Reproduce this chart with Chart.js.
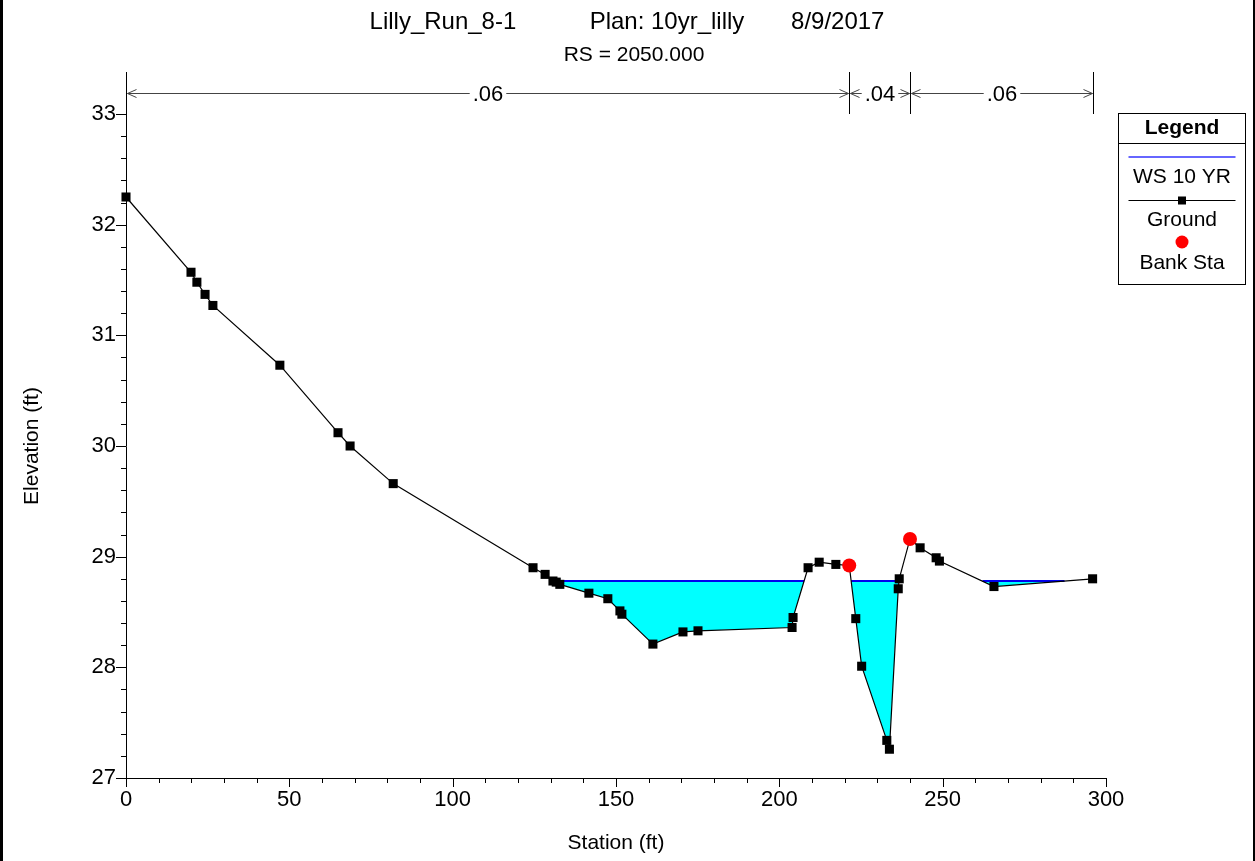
<!DOCTYPE html>
<html>
<head>
<meta charset="utf-8">
<script src="https://cdn.jsdelivr.net/npm/chart.js@4.4.1/dist/chart.umd.min.js"></script>
<style>
  html, body { margin: 0; padding: 0; background: #fff; }
  #wrap { width: 1255px; height: 861px; }
</style>
</head>
<body>
<div id="wrap"><canvas id="xsChart" width="1255" height="861"></canvas></div>
<script>
// HEC-RAS cross section, RS 2050

// ground points (station ft, elevation ft)
const groundSta = [
  0, 19.9, 21.7, 24.2, 26.6, 47.1, 64.9, 68.6, 81.8,
  124.6, 128.3, 130.7, 131.7, 132.8, 141.7, 147.5, 151.2, 151.8,
  161.3, 170.5, 175.1, 203.9, 204.2, 208.8, 212.2, 217.3, 221.4,
  223.4, 225.2, 232.9, 233.7, 236.4, 236.7, 240.0, 243.1, 248.0,
  249.0, 265.7, 295.9
];
const groundElev = [
  32.25, 31.57, 31.48, 31.37, 31.27, 30.73, 30.12, 30.00, 29.66,
  28.90, 28.84, 28.78, 28.77, 28.75, 28.67, 28.62, 28.51, 28.48,
  28.21, 28.32, 28.33, 28.36, 28.45, 28.90, 28.95, 28.93, 28.92,
  28.44, 28.01, 27.34, 27.26, 28.71, 28.80, 29.16, 29.08, 28.99,
  28.96, 28.73, 28.80
];

// bank stations
const bankSta = [221.4, 240.0];
const bankElev = [28.92, 29.16];

// water surface, 10 yr event: level and wetted reaches
const wsElev = 28.78;
const wsFromSta = [130.9, 222.0, 262.2];
const wsToSta = [207.6, 236.6, 287.3];

// Manning's n breaks along the top
const nBreakSta = [0, 221.4, 240.0, 295.9];
const nLabels = ['.06', '.04', '.06'];

// axis ticks
const xTickVals = [0, 50, 100, 150, 200, 250, 300];
const yTickVals = [27, 28, 29, 30, 31, 32, 33];

const titleText = 'Lilly_Run_8-1           Plan: 10yr_lilly       8/9/2017';
const subTitleText = 'RS = 2050.000';

const FONT = "'Liberation Sans', Arial, sans-serif";

function wsPoints() {
  const pts = [];
  for (let i = 0; i < wsFromSta.length; i++) {
    if (i > 0) pts.push({ x: (wsToSta[i - 1] + wsFromSta[i]) / 2, y: null });
    pts.push({ x: wsFromSta[i], y: wsElev });
    pts.push({ x: wsToSta[i], y: wsElev });
  }
  return pts;
}

function drawArrowHead(ctx, x, y, dir) {
  // open arrow head, dir = -1 points left, 1 points right
  ctx.beginPath();
  ctx.moveTo(x - dir * 9, y - 4);
  ctx.lineTo(x, y);
  ctx.lineTo(x - dir * 9, y + 4);
  ctx.stroke();
}

const hecrasDecor = {
  id: 'hecrasDecor',
  afterDraw(chart) {
    const ctx = chart.ctx;
    const xs = chart.scales.x;
    const ys = chart.scales.y;
    const area = chart.chartArea;
    ctx.save();

    // title + subtitle
    ctx.fillStyle = '#000';
    ctx.textAlign = 'center';
    ctx.textBaseline = 'middle';
    ctx.font = '24px ' + FONT;
    ctx.fillText(titleText, 627, 22);
    ctx.font = '21px ' + FONT;
    ctx.fillText(subTitleText, 634, 55);

    // axis tick marks, major + minor
    ctx.strokeStyle = '#000';
    ctx.lineWidth = 1;
    ctx.beginPath();
    for (let v = 0; v <= 300 + 1e-6; v += 10) {
      const px = Math.round(xs.getPixelForValue(v)) + 0.5;
      const len = Math.abs(v % 50) < 1e-6 ? 9 : 5;
      ctx.moveTo(px, area.bottom);
      ctx.lineTo(px, area.bottom + len);
    }
    for (let i = 0; i <= 30; i++) {
      const v = 27 + i * 0.2;
      const py = Math.round(ys.getPixelForValue(v)) + 0.5;
      const len = i % 5 === 0 ? 10 : 5;
      ctx.moveTo(area.left, py);
      ctx.lineTo(area.left - len, py);
    }
    ctx.stroke();

    // Manning's n bar
    const barY = 93.5;
    const topY = 72;
    ctx.strokeStyle = '#000';
    ctx.beginPath();
    nBreakSta.forEach(s => {
      const px = Math.round(xs.getPixelForValue(s)) + 0.5;
      ctx.moveTo(px, topY);
      ctx.lineTo(px, area.top);
    });
    ctx.stroke();
    ctx.font = '22px ' + FONT;
    ctx.strokeStyle = '#444';
    for (let i = 0; i < nLabels.length; i++) {
      const x1 = Math.round(xs.getPixelForValue(nBreakSta[i])) + 1.5;
      const x2 = Math.round(xs.getPixelForValue(nBreakSta[i + 1])) - 0.5;
      const cx = (x1 + x2) / 2;
      const half = ctx.measureText(nLabels[i]).width / 2 + 3;
      ctx.beginPath();
      ctx.moveTo(x1, barY);
      ctx.lineTo(cx - half, barY);
      ctx.moveTo(cx + half, barY);
      ctx.lineTo(x2, barY);
      ctx.stroke();
      drawArrowHead(ctx, x1, barY, -1);
      drawArrowHead(ctx, x2, barY, 1);
      ctx.fillText(nLabels[i], cx, barY + 1);
    }

    // legend box
    const ds = chart.data.datasets;
    const lx = 1118.5, ly = 113.5, lw = 127, lh = 171;
    const cx = lx + lw / 2;
    ctx.strokeStyle = '#000';
    ctx.lineWidth = 1;
    ctx.strokeRect(lx, ly, lw, lh);
    ctx.beginPath();
    ctx.moveTo(lx, 143.5);
    ctx.lineTo(lx + lw, 143.5);
    ctx.stroke();
    ctx.font = 'bold 21px ' + FONT;
    ctx.fillText('Legend', cx, 128);
    ctx.font = '21px ' + FONT;

    // WS
    ctx.strokeStyle = '#3333ff';
    ctx.lineWidth = 1.5;
    ctx.beginPath();
    ctx.moveTo(lx + 10, 157);
    ctx.lineTo(lx + lw - 10, 157);
    ctx.stroke();
    ctx.lineWidth = 1;
    ctx.fillText(ds[2].label, cx, 177);
    // Ground
    ctx.strokeStyle = '#000';
    ctx.beginPath();
    ctx.moveTo(lx + 10, 200.5);
    ctx.lineTo(lx + lw - 10, 200.5);
    ctx.stroke();
    ctx.fillRect(cx - 4, 196.5, 8, 8);
    ctx.fillText(ds[1].label, cx, 220);
    // Bank Sta
    ctx.fillStyle = ds[0].pointBackgroundColor;
    ctx.beginPath();
    ctx.arc(cx, 242, 6.5, 0, Math.PI * 2);
    ctx.fill();
    ctx.fillStyle = '#000';
    ctx.fillText(ds[0].label, cx, 263);

    // outer frame sides
    ctx.fillRect(0, 0, 3, chart.height);
    ctx.fillRect(chart.width - 2, 0, 2, chart.height);
    ctx.restore();
  }
};

const chart = new Chart(document.getElementById('xsChart'), {
  type: 'line',
  data: {
    datasets: [
      {
        label: 'Bank Sta',
        data: bankSta.map((s, i) => ({ x: s, y: bankElev[i] })),
        showLine: false,
        pointStyle: 'circle',
        pointRadius: 7,
        pointBorderWidth: 0,
        pointBackgroundColor: '#ff0000',
        borderColor: '#ff0000',
        clip: false
      },
      {
        label: 'Ground',
        data: groundSta.map((s, i) => ({ x: s, y: groundElev[i] })),
        borderColor: '#000',
        borderWidth: 1.2,
        pointStyle: 'rect',
        pointRadius: 6.4,
        pointBorderWidth: 0,
        pointBackgroundColor: '#000',
        tension: 0,
        fill: false,
        clip: false
      },
      {
        label: 'WS 10 YR',
        data: wsPoints(),
        borderColor: '#0000ee',
        borderWidth: 2,
        pointRadius: 0,
        spanGaps: false,
        fill: { target: 1, above: '#00ffff', below: 'rgba(0,0,0,0)' },
        backgroundColor: '#00ffff'
      }
    ]
  },
  options: {
    responsive: false,
    animation: false,
    devicePixelRatio: 1,
    layout: { padding: { top: 114, right: 149, bottom: 0, left: 0 } },
    plugins: {
      legend: { display: false },
      tooltip: { enabled: false },
      title: { display: false }
    },
    scales: {
      x: {
        type: 'linear',
        min: 0,
        max: 300,
        afterBuildTicks: s => { s.ticks = xTickVals.map(v => ({ value: v })); },
        afterFit: s => { s.height = 83; },
        ticks: {
          color: '#000',
          font: { family: FONT, size: 22 },
          padding: 9,
          maxRotation: 0,
          autoSkip: false
        },
        grid: { drawOnChartArea: false, drawTicks: false },
        border: { display: true, color: '#000', width: 1 },
        title: {
          display: true,
          text: 'Station (ft)',
          color: '#000',
          font: { family: FONT, size: 21 },
          padding: { top: 0, bottom: 5 }
        }
      },
      y: {
        type: 'linear',
        min: 27,
        max: 33,
        afterBuildTicks: s => { s.ticks = yTickVals.map(v => ({ value: v })); },
        afterFit: s => { s.width = 126; },
        ticks: {
          color: '#000',
          font: { family: FONT, size: 22 },
          padding: 10
        },
        grid: { drawOnChartArea: false, drawTicks: false },
        border: { display: true, color: '#000', width: 1 },
        title: {
          display: true,
          text: 'Elevation (ft)',
          color: '#000',
          font: { family: FONT, size: 21 },
          padding: { top: 20, bottom: 0 }
        }
      }
    }
  },
  plugins: [hecrasDecor]
});
</script>
</body>
</html>
